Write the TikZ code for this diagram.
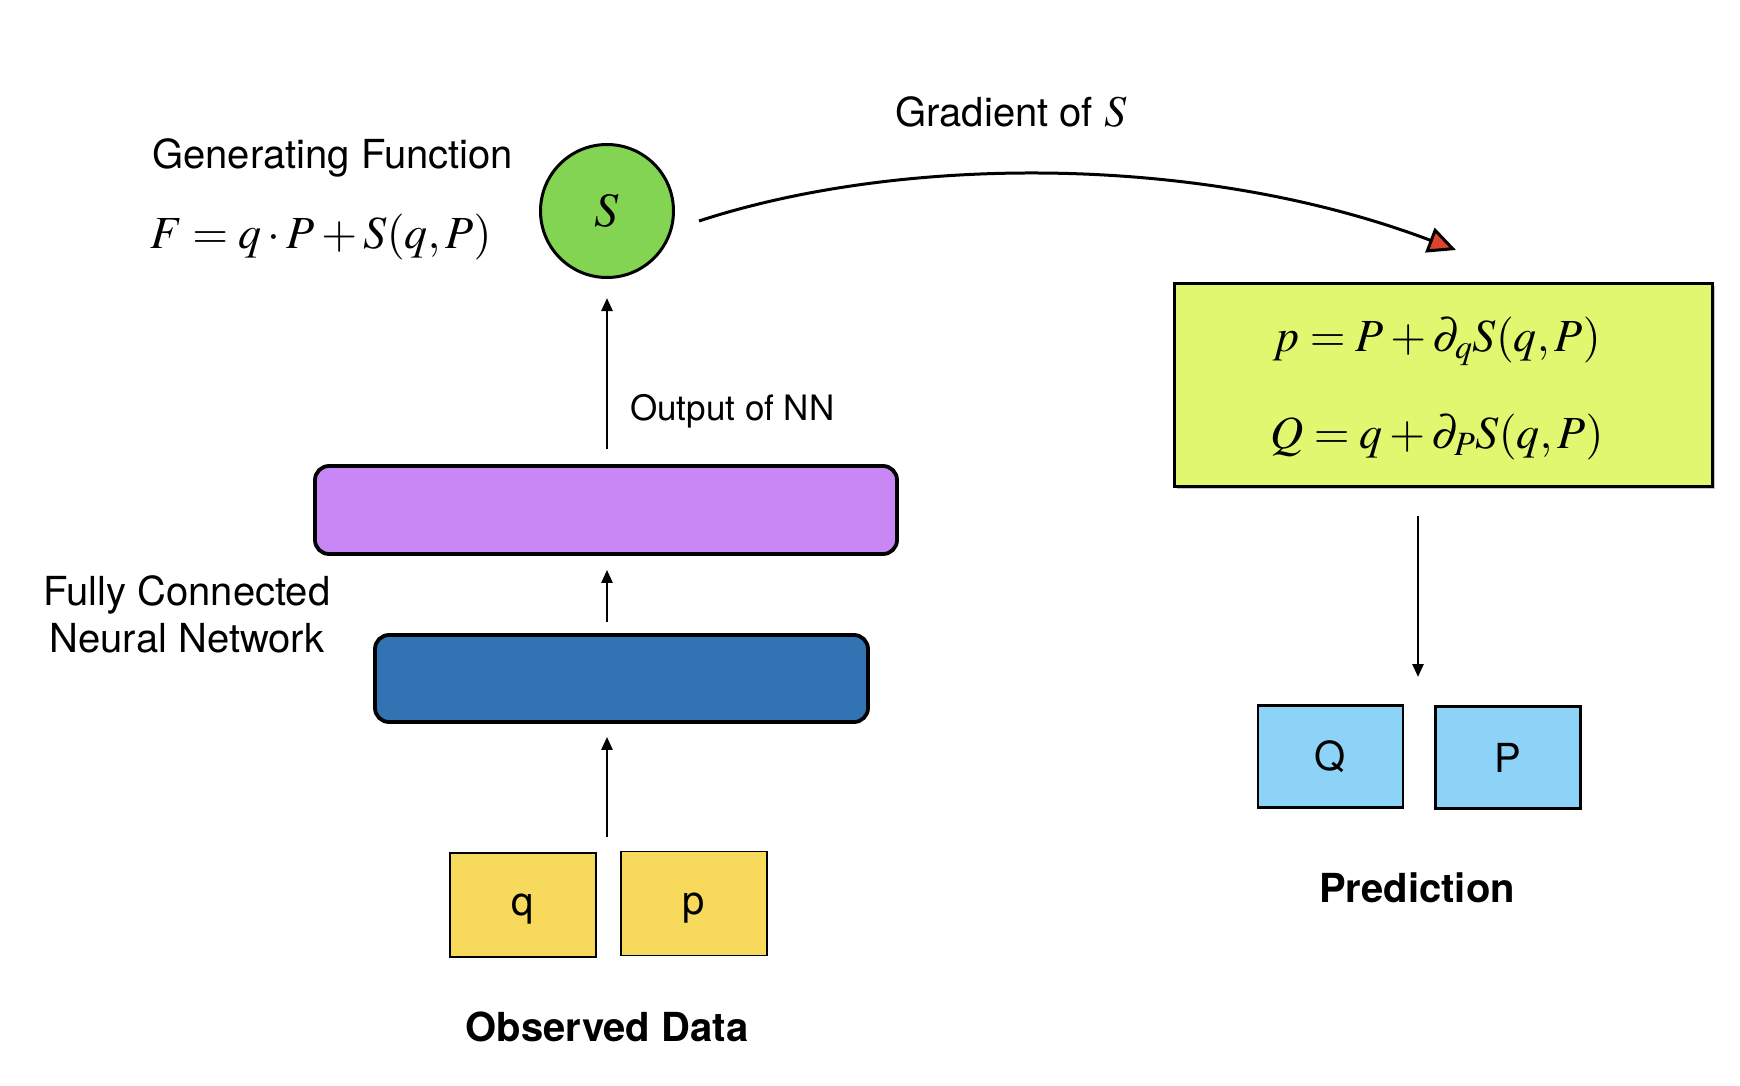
\documentclass[tikz,border=0pt]{standalone}
\usepackage{mathptmx}
\usepackage[no-math]{fontspec}
\setmainfont{TeX Gyre Heros}
\usetikzlibrary{arrows.meta,shadows}
\definecolor{sgreen}{HTML}{82D452}
\definecolor{nnpurple}{HTML}{C987F5}
\definecolor{nnblue}{HTML}{3274B3}
\definecolor{datayellow}{HTML}{F7D95B}
\definecolor{predblue}{HTML}{8DD3F7}
\definecolor{eqbox}{HTML}{E0F76F}
\definecolor{tipred}{HTML}{E0432B}
\tikzset{
  lbl/.style={font=\fontsize{40}{46}\selectfont, inner sep=0pt},
  boldlbl/.style={font=\fontsize{40}{46}\selectfont\bfseries, inner sep=0pt},
  mathlbl/.style={font=\fontsize{46}{52}\selectfont, inner sep=0pt},
  layer/.style={draw, line width=3.8pt, rounded corners=14pt},
  datbox/.style={draw, line width=1.3pt, fill=datayellow, minimum width=146pt, minimum height=104pt, font=\fontsize{40}{46}\selectfont, inner sep=0pt, text depth=0pt},
  predbox/.style={draw, line width=2.6pt, fill=predblue, minimum width=145pt, minimum height=102pt, font=\fontsize{40}{46}\selectfont, inner sep=0pt},
  arr/.style={line width=2.6pt, -{Triangle[length=13pt,width=11pt]}},
  grad/.style={line width=3pt, -{Triangle[length=28pt,width=26pt,fill=tipred]}},
}
\begin{document}
\begin{tikzpicture}[x=1pt,y=-1pt]
\fill[white] (0,0) rectangle (1740,1086);
\useasboundingbox (0,0) rectangle (1740,1086);

% left column
\node[lbl, anchor=west] (genf) at (152,158) {Generating Function};
\node[mathlbl, anchor=west] (formula) at (150,237) {$F = q\cdot P + S(q,P)$};
\node[circle, draw, line width=3pt, fill=sgreen, minimum size=133pt, inner sep=0pt, font=\fontsize{48}{54}\selectfont] (S) at (607,211) {$S$};

\node[layer, fill=nnpurple, minimum width=582pt, minimum height=88pt] (purple) at (606,510) {};
\node[layer, fill=nnblue, minimum width=493pt, minimum height=87pt] (blue) at (621.5,678.5) {};
\node[lbl, align=center, font=\fontsize{40}{47}\selectfont] (fcnn) at (187,614) {Fully Connected\\Neural Network};
\node[font=\fontsize{35}{40}\selectfont, inner sep=0pt, anchor=west] (outnn) at (630,411) {Output of NN};

\node[datbox] (q) at (523,905) {q};
\node[datbox] (p) at (694,903.5) {p};
\coordinate (datamid) at (607,852);
\node[boldlbl] (obs) at (607,1027) {Observed Data};

% right column
\node[lbl] (gradlbl) at (1011,112) {Gradient of {\fontsize{44}{50}\selectfont$S$}};
\coordinate (gtip) at (1456,250);
\node[draw, line width=3pt, fill=eqbox, minimum width=538pt, minimum height=203pt, inner sep=0pt,
      align=center, font=\fontsize{46}{97}\selectfont,
      drop shadow={shadow xshift=3pt, shadow yshift=-3pt, opacity=0.45}] (eq) at (1443,384.5)
      {\rule{0pt}{42pt}$p = P + \partial_q S(q,P)$\hspace*{12pt}\\$Q = q + \partial_P S(q,P)$\hspace*{12pt}};

\node[predbox] (Q) at (1330.5,756.5) {Q};
\node[predbox] (P) at (1508,757.5) {P};
\coordinate (predmid) at (1418,705);
\node[boldlbl] (pred) at (1417,888) {Prediction};

% connectors
\draw[arr, shorten <=15pt, shorten >=13pt] (datamid) -- (blue.south -| datamid);
\draw[arr, shorten <=11pt, shorten >=14pt] (blue.north -| datamid) -- (purple.south -| datamid);
\draw[arr, shorten <=15pt, shorten >=19pt] (purple.north -| S) -- (S.south);
\draw[grad] ([xshift=24pt,yshift=-10pt]S.east) .. controls (900,155) and (1200,153) .. (gtip);
\draw[arr, shorten <=28pt, shorten >=28pt] (eq.south -| predmid) -- (predmid);
\end{tikzpicture}
\end{document}
